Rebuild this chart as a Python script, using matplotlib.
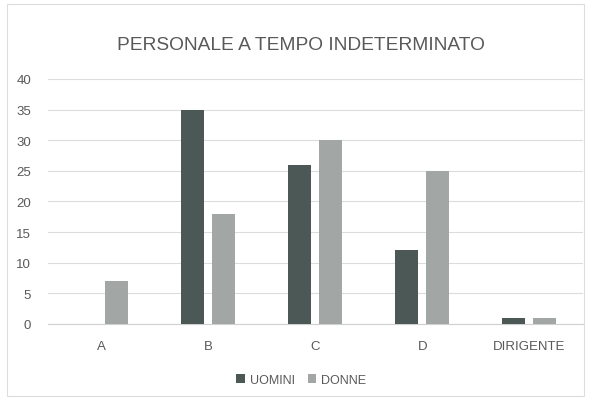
import matplotlib
matplotlib.use("Agg")
import matplotlib.pyplot as plt
import numpy as np

categories = ["A", "B", "C", "D", "DIRIGENTE"]
uomini = [0, 35, 26, 12, 1]
donne = [7, 18, 30, 25, 1]
series_names = ["UOMINI", "DONNE"]
y_ticks = [0, 5, 10, 15, 20, 25, 30, 35, 40]

DARK = "#4b5856"
LIGHT = "#a2a7a5"
TEXT = "#595959"

plt.rcParams["font.family"] = ["Liberation Sans", "DejaVu Sans"]

fig = plt.figure(figsize=(5.91, 4.02), dpi=100)
ax = fig.add_axes([0.081, 0.192, 0.905, 0.609])

x = np.arange(len(categories))
width = 0.215
offset = 0.145
ax.bar(x - offset, uomini, width, color=DARK, label=series_names[0], zorder=3)
ax.bar(x + offset, donne, width, color=LIGHT, label=series_names[1], zorder=3)

ax.set_xlim(-0.5, len(categories) - 0.5)
ax.set_ylim(0, 40)
ax.set_yticks(y_ticks)
ax.set_xticks(x)
ax.set_xticklabels(categories)
ax.tick_params(axis="both", length=0, colors=TEXT, labelsize=9.5)
ax.tick_params(axis="x", pad=12)
ax.tick_params(axis="y", pad=12)
ax.yaxis.grid(True, color="#dcdcdc", linewidth=0.8, zorder=0)
for side in ["top", "right", "left"]:
    ax.spines[side].set_visible(False)
ax.spines["bottom"].set_color("#d0d0d0")

# titolo
fig.text(0.51, 0.888, "PERSONALE A TEMPO INDETERMINATO", ha="center", va="center",
         fontsize=13.8, color=TEXT)

fig.legend(loc="center", bbox_to_anchor=(0.51, 0.052), ncol=2, frameon=False,
           fontsize=9, labelcolor=TEXT, handlelength=0.7, handleheight=0.7,
           columnspacing=1.0, handletextpad=0.4)

border = plt.Rectangle((0.012, 0.012), 0.976, 0.976, transform=fig.transFigure,
                       fill=False, edgecolor="#dddddd", linewidth=0.8)
fig.add_artist(border)

fig.savefig("out.png", dpi=100)
